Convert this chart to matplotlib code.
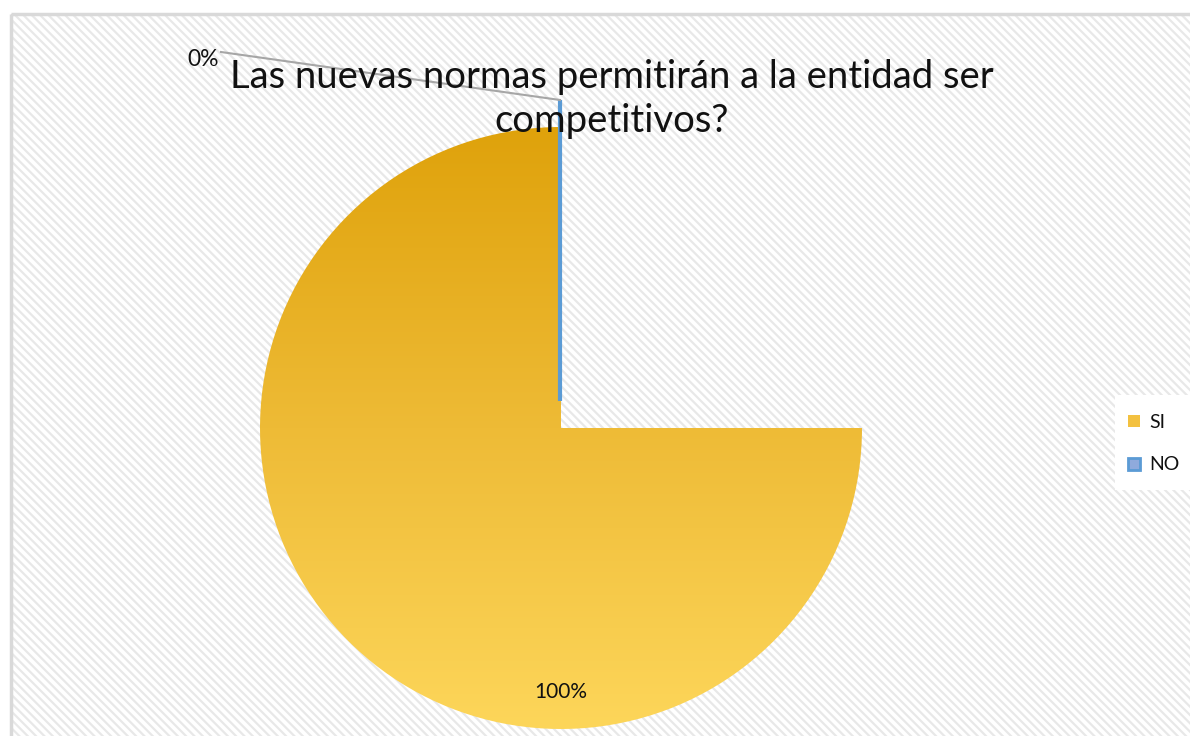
import numpy as np
import matplotlib
matplotlib.use('Agg')
import matplotlib.pyplot as plt
from matplotlib.patches import Wedge, Rectangle
from matplotlib.colors import LinearSegmentedColormap

plt.rcParams['font.family'] = ['Lato', 'DejaVu Sans']
plt.rcParams['hatch.linewidth'] = 1.6

# data
categories = ['SI', 'NO']
values = [100, 0]
pct_labels = ['100%', '0%']
title = 'Las nuevas normas permitirán a la entidad ser\ncompetitivos?'

W, H = 1190, 736
fig = plt.figure(figsize=(W / 100, H / 100), dpi=100)
ax = fig.add_axes([0, 0, 1, 1])
ax.set_xlim(0, W)
ax.set_ylim(H, 0)
ax.set_aspect('equal')
ax.axis('off')

# chart area with light diagonal texture
ax.add_patch(Rectangle((11, 14), W, H, facecolor='white', edgecolor='#e8e8e8',
                       hatch='\\\\\\\\', lw=0, zorder=0))
ax.add_patch(Rectangle((11, 14), W, H, facecolor='none', edgecolor='#d9d9d9',
                       lw=2.5, zorder=1))

# pie (Excel rendered the 100% slice as 3/4 of a disc)
# y axis is inverted, so data angles run clockwise on screen
cx, cy, r = 561, 428, 301
explode = 27
total = sum(values)
span_drawn = 270  # as rendered in the source image
si_wedge = Wedge((cx, cy), r, 0, span_drawn * values[0] / total,
                 facecolor='none', edgecolor='none', zorder=2)
ax.add_patch(si_wedge)
grad = np.linspace(0, 1, 256).reshape(-1, 1)
cmap = LinearSegmentedColormap.from_list('si', ['#dfa20b', '#eebb36', '#fdd65a'])
im = ax.imshow(grad, cmap=cmap, aspect='auto', origin='upper',
               extent=(cx - r, cx + r, cy + r, cy - r), zorder=2)
im.set_clip_path(si_wedge)

# NO slice: zero width, exploded upwards -> a thin line
nx, ny = cx - 1, cy - explode
ax.plot([nx, nx], [ny, ny - r], color='#5b9bd5', lw=3, solid_capstyle='butt', zorder=3)

# data labels
ax.text(cx, 692, pct_labels[0], ha='center', va='center', fontsize=15, color='#111111', zorder=5)
ax.plot([560, 221], [100, 52], color='#a6a6a6', lw=1.5, zorder=4)
ax.text(203, 59, pct_labels[1], ha='center', va='center', fontsize=16.5, color='#111111', zorder=5)

# title
ax.text(612, 99, title, ha='center', va='center', fontsize=27.5, color='#111111',
        linespacing=1.25, zorder=6)

# legend
ax.add_patch(Rectangle((1115, 395), 80, 95, facecolor='white', edgecolor='none', zorder=5))
ax.add_patch(Rectangle((1128, 415), 12, 12, facecolor='#f3c140', edgecolor='none', zorder=6))
ax.add_patch(Rectangle((1128, 458), 12, 12, facecolor='#8faadc', edgecolor='#5b9bd5', lw=2, zorder=6))
ax.text(1149, 422, categories[0], ha='left', va='center', fontsize=14, color='#111111', zorder=7)
ax.text(1149, 465, categories[1], ha='left', va='center', fontsize=14, color='#111111', zorder=7)

fig.savefig('out.png', dpi=100)
